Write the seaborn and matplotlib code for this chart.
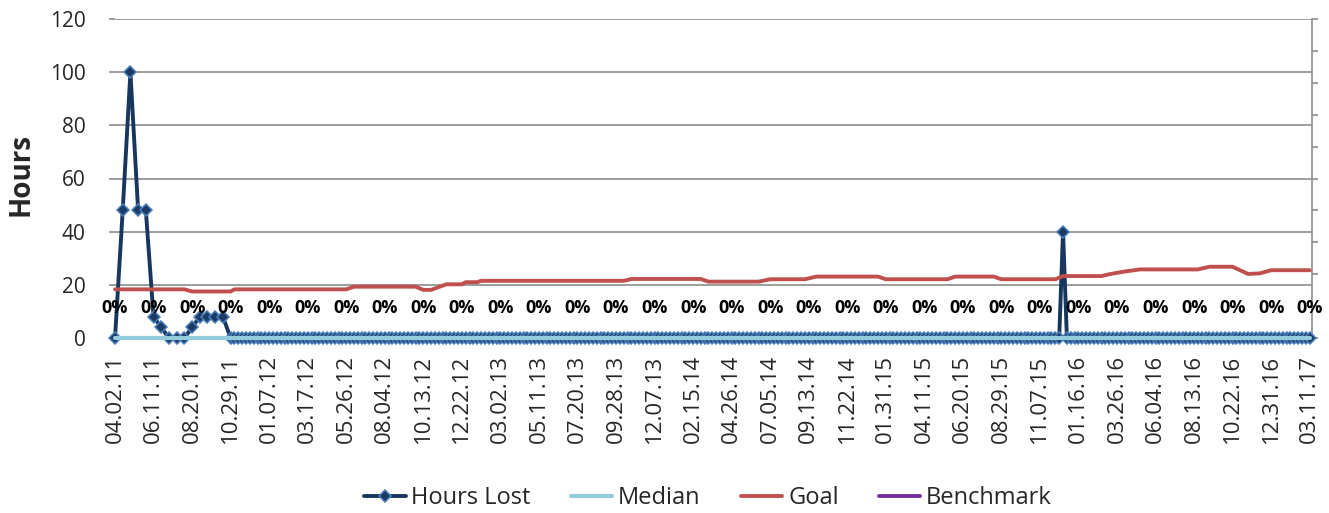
import matplotlib
matplotlib.use("Agg")
import matplotlib.pyplot as plt
import seaborn as sns

# x positions in weeks since 04.02.11 (biweekly at the start, weekly afterwards)
weeks = list(range(0, 31, 2)) + list(range(31, 311))

# Hours lost per period
hours_early = [0, 48, 100, 48, 48, 8, 4, 0, 0, 0, 4, 8, 8, 8, 8, 0]
hours_later = [0] * 215 + [40] + [0] * 64
hours_lost = hours_early + hours_later

# Median is flat at zero
median = [0] * len(weeks)

# Goal line, read at the points where it changes
goal_weeks = [0, 18, 20, 30, 31, 60, 62, 78, 80, 82, 86, 90, 91, 94, 95, 132,
              134, 152, 154, 167, 170, 179, 182, 198, 200, 216, 218, 228, 230,
              244, 246, 256, 258, 262, 266, 281, 284, 290, 294, 297, 300, 310]
goal_hours = [18.3, 18.3, 17.5, 17.5, 18.3, 18.3, 19.3, 19.3, 18.1, 18.1, 20.2,
              20.2, 21.0, 21.0, 21.5, 21.5, 22.2, 22.2, 21.2, 21.2, 22.1, 22.1,
              23.1, 23.1, 22.1, 22.1, 23.1, 23.1, 22.1, 22.1, 23.3, 23.3, 24.0,
              25.0, 25.8, 25.8, 26.8, 26.8, 24.1, 24.3, 25.5, 25.5]

# Tick labels every 10 weeks
tick_weeks = list(range(0, 311, 10))
tick_labels = ["04.02.11", "06.11.11", "08.20.11", "10.29.11", "01.07.12",
               "03.17.12", "05.26.12", "08.04.12", "10.13.12", "12.22.12",
               "03.02.13", "05.11.13", "07.20.13", "09.28.13", "12.07.13",
               "02.15.14", "04.26.14", "07.05.14", "09.13.14", "11.22.14",
               "01.31.15", "04.11.15", "06.20.15", "08.29.15", "11.07.15",
               "01.16.16", "03.26.16", "06.04.16", "08.13.16", "10.22.16",
               "12.31.16", "03.11.17"]
pct_labels = ["0%"] * len(tick_weeks)

sns.set_style("white")
plt.rcParams['font.family'] = ['Open Sans', 'DejaVu Sans']

fig = plt.figure(figsize=(13.29, 5.13), dpi=100)
ax = fig.add_axes([115 / 1329, 1 - 338 / 513, (1312 - 115) / 1329, (338 - 19) / 513])

grid_col = "#8c8c8c"
ax.set_ylim(0, 120)
ax.set_xlim(0, 310.6)
ax.set_yticks(range(0, 121, 20))
ax.yaxis.grid(True, color=grid_col, lw=1.2)
ax.set_axisbelow(True)

sns.lineplot(x=weeks, y=hours_lost, ax=ax, color="#17375e", lw=2.8,
             marker="D", markersize=6.6, markerfacecolor="#1b3a64",
             markeredgecolor="#4a7ebb", markeredgewidth=1.1,
             label="Hours Lost", clip_on=False)
sns.lineplot(x=weeks, y=median, ax=ax, color="#93cddd", lw=3.0,
             label="Median", clip_on=False)
sns.lineplot(x=goal_weeks, y=goal_hours, ax=ax, color="#c0504d", lw=2.8,
             label="Goal", clip_on=False)
ax.plot([], [], color="#7030a0", lw=2.8, label="Benchmark")

# later series sit on top, as in the original chart
for z, line in enumerate(ax.lines):
    line.set_zorder(3 + z)

for w, t in zip(tick_weeks, pct_labels):
    ax.text(w, 11.3, t, ha="center", va="center", fontsize=13,
            fontweight="bold", color="black", zorder=10)

ax.set_xticks(tick_weeks)
ax.set_xticklabels(tick_labels, rotation=90, fontsize=16)
ax.tick_params(axis="x", length=0, pad=12)
ax.tick_params(axis="y", length=4, color=grid_col, width=1.2, pad=17,
               labelsize=15, left=True)

for side in ["top", "left"]:
    ax.spines[side].set_visible(False)
ax.spines["bottom"].set_color(grid_col)
ax.spines["right"].set_color(grid_col)
ax.spines["right"].set_linewidth(1.2)

# secondary axis on the right, ticks only
ax2 = ax.twinx()
ax2.set_ylim(0, 1)
ax2.set_yticks([i / 10 for i in range(11)])
ax2.set_yticklabels([])
ax2.tick_params(axis="y", length=4.5, color=grid_col, width=1.2, right=True)
for side in ["top", "left", "bottom", "right"]:
    ax2.spines[side].set_visible(False)
ax2.set_zorder(-1)

ax.set_ylabel("")
fig.text(21 / 1329, 1 - 175 / 513, "Hours", rotation=90, ha="center",
         va="center", fontsize=20, fontweight="bold")

handles, labels = ax.get_legend_handles_labels()
ax.legend(handles, labels, loc="center", bbox_to_anchor=(708 / 1329, 15 / 513),
          bbox_transform=fig.transFigure, ncol=4, frameon=False, fontsize=17,
          handlelength=1.75, handletextpad=0.25, columnspacing=1.7)

fig.savefig("out.png", dpi=100)
